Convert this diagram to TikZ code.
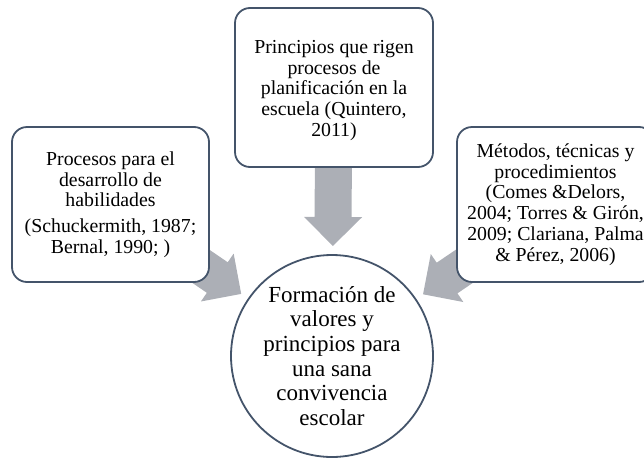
\documentclass[tikz,border=0pt]{standalone}
\usepackage{fontspec}
\setmainfont{Liberation Serif}
\usetikzlibrary{calc}
\definecolor{edgecol}{RGB}{68,84,106}
\definecolor{arrowcol}{RGB}{172,175,182}
\tikzset{
  boxnode/.style={draw=edgecol, line width=1.8pt, fill=white, rounded corners=15pt,
    minimum width=197pt, inner sep=0pt, align=center,
    font=\fontsize{19.8}{20.7}\selectfont},
  circnode/.style={draw=edgecol, line width=1.8pt, fill=white, circle,
    minimum size=202pt, inner sep=0pt, align=center,
    font=\fontsize{23}{24.7}\selectfont},
  blockarrow/.style={fill=arrowcol, draw=none}
}
\begin{document}
\begin{tikzpicture}[x=1pt,y=-1pt]
\useasboundingbox (0,0) rectangle (644,458);
% geometry anchors
\coordinate (cc) at (332,356);
\coordinate (lc) at (110.5,204.5);
\coordinate (tc) at (334,87.5);
\coordinate (rc) at (555.5,204.5);
% block arrows (drawn first, below the shapes)
\foreach \src/\nm in {lc/L,tc/T,rc/R}{
  \coordinate (tip\nm) at ($(cc)!110pt!(\src)$);
  \coordinate (base\nm) at ($(tip\nm)!29pt!(\src)$);
  \coordinate (tail\nm) at ($(tip\nm)!100pt!(\src)$);
  \fill[blockarrow] (tip\nm)
    -- ($(base\nm)!29pt!90:(tip\nm)$)
    -- ($(base\nm)!18.5pt!90:(tip\nm)$)
    -- ($(tail\nm)!18.5pt!90:(tip\nm)$)
    -- ($(tail\nm)!18.5pt!-90:(tip\nm)$)
    -- ($(base\nm)!18.5pt!-90:(tip\nm)$)
    -- ($(base\nm)!29pt!-90:(tip\nm)$)
    -- cycle;
}
% boxes
\node[boxnode, minimum height=155pt] (left) at (lc)
  {Procesos para el\\desarrollo de\\habilidades\\[5pt](Schuckermith, 1987;\\Bernal, 1990; )};
\node[boxnode, minimum width=198pt, minimum height=159pt] (top) at (tc)
  {\\[-2pt]Principios que rigen\\procesos de\\planificación en la\\escuela (Quintero,\\2011)};
\node[boxnode, minimum height=155pt] (right) at (rc)
  {Métodos, técnicas y\\procedimientos\\(Comes \&Delors,\\2004; Torres \& Girón,\\2009; Clariana, Palma\\\& Pérez, 2006)};
\node[circnode] (circ) at (cc)
  {Formación de\\valores y\\principios para\\una sana\\convivencia\\escolar};
\end{tikzpicture}
\end{document}
